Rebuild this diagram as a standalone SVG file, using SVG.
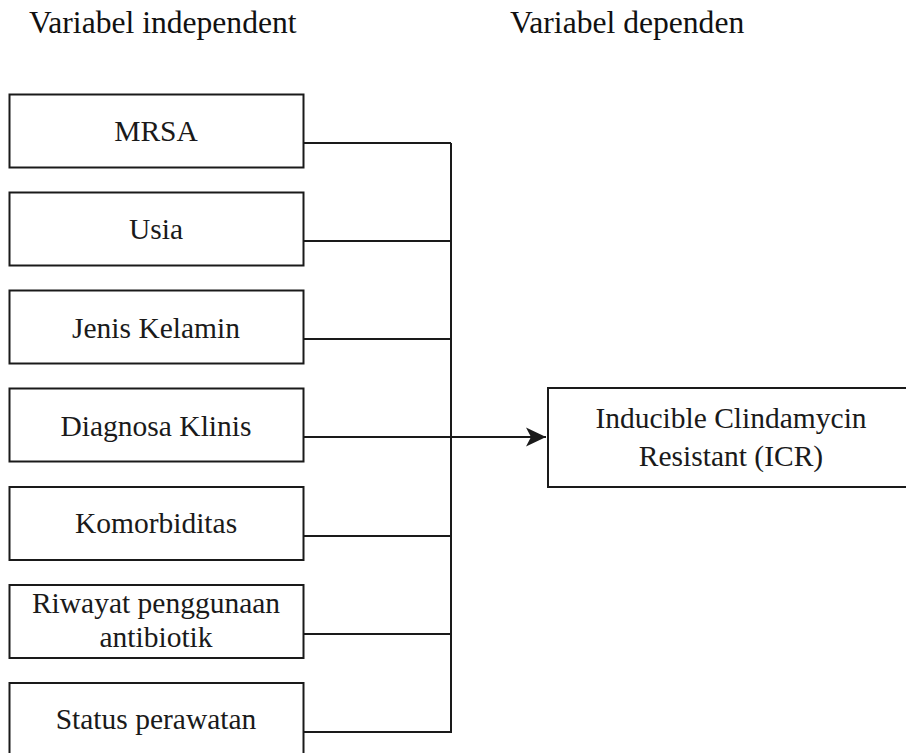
<svg xmlns="http://www.w3.org/2000/svg" width="906" height="753" viewBox="0 0 906 753">
<style>
.box{fill:#fff;stroke:#1a1a1a;stroke-width:2}
.t{font-family:'Liberation Serif','DejaVu Serif',serif;font-size:29.5px;fill:#1a1a1a;text-anchor:middle}
.h{font-family:'Liberation Serif','DejaVu Serif',serif;font-size:31.6px;fill:#111}
.ln{fill:none;stroke:#1a1a1a;stroke-width:2}
</style>
<defs>
<marker id="arr" markerWidth="22" markerHeight="22" refX="20" refY="10" orient="auto" markerUnits="userSpaceOnUse">
<path d="M20,10 L0,0.5 L5,10 L0,19.5 Z" fill="#1a1a1a"/>
</marker>
</defs>
<rect width="906" height="753" fill="#fff"/>
<text class="h" x="29" y="33">Variabel independent</text>
<text class="h" x="510" y="33">Variabel dependen</text>
<g id="connectors">
<path class="ln" d="M304,143 H451 M304,241 H451 M304,339 H451 M304,536 H451 M304,634 H451 M304,732 H451 M451,143 V733"/>
<path class="ln" d="M304,437 H546" marker-end="url(#arr)"/>
</g>
<g id="n-mrsa"><rect class="box" x="9.5" y="94.5" width="294" height="73"/><text class="t" x="156" y="141">MRSA</text></g>
<g id="n-usia"><rect class="box" x="9.5" y="192.5" width="294" height="73"/><text class="t" x="156" y="239">Usia</text></g>
<g id="n-jenis"><rect class="box" x="9.5" y="290.5" width="294" height="73"/><text class="t" x="156" y="338">Jenis Kelamin</text></g>
<g id="n-diagnosa"><rect class="box" x="9.5" y="388.5" width="294" height="73"/><text class="t" x="156" y="436">Diagnosa Klinis</text></g>
<g id="n-komorbiditas"><rect class="box" x="9.5" y="487" width="294" height="73"/><text class="t" x="156" y="533">Komorbiditas</text></g>
<g id="n-riwayat"><rect class="box" x="9.5" y="585" width="294" height="73"/><text class="t" x="156" y="613">Riwayat penggunaan</text><text class="t" x="156" y="647">antibiotik</text></g>
<g id="n-status"><rect class="box" x="9.5" y="683" width="294" height="80"/><text class="t" x="156" y="729">Status perawatan</text></g>
<g id="n-icr"><rect class="box" x="548" y="388" width="370" height="99"/><text class="t" x="731" y="428">Inducible Clindamycin</text><text class="t" x="731" y="466">Resistant (ICR)</text></g>
</svg>
